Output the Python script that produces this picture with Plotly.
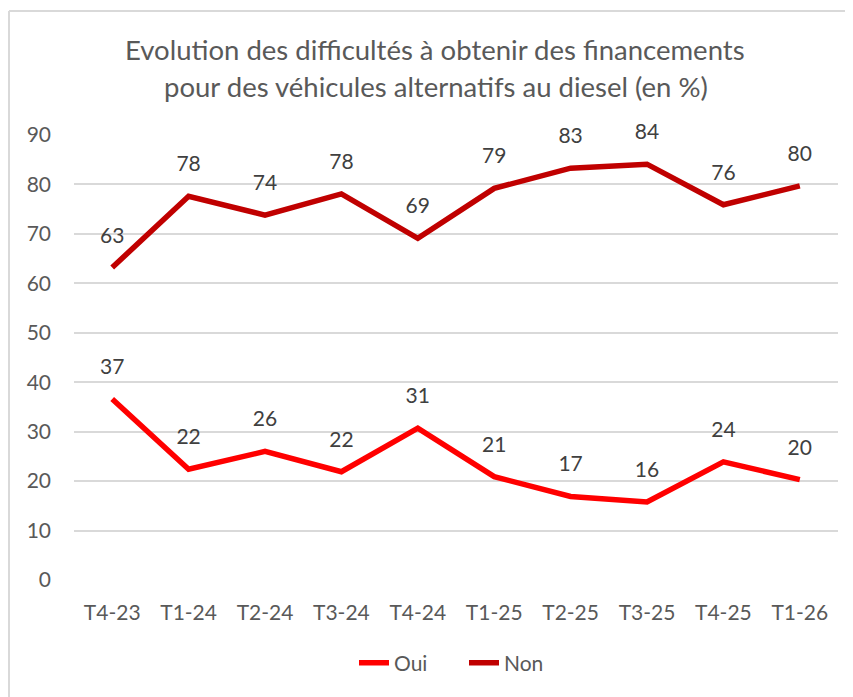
import plotly.graph_objects as go

categories = ["T4-23", "T1-24", "T2-24", "T3-24", "T4-24", "T1-25", "T2-25", "T3-25", "T4-25", "T1-26"]
oui = [36.6, 22.4, 26.0, 21.9, 30.7, 20.9, 16.9, 15.8, 23.9, 20.3]
non = [63.2, 77.6, 73.8, 78.1, 69.1, 79.2, 83.3, 84.1, 75.9, 79.7]
y_ticks = [0, 10, 20, 30, 40, 50, 60, 70, 80, 90]
title_lines = ["Evolution des difficultés à obtenir des financements",
               "pour des véhicules alternatifs au diesel (en %)"]

FONT = "Lato"
GRAY = "#595959"

# page body has an 8px margin: work in reference pixel coords, shifted by OFF
OFF = 8
W, H = 853 - OFF, 697 - OFF
L = 74 - OFF
R = W - (838 - OFF)
T = 135 - OFF
B = H - (580 - OFF)
pw, ph = W - L - R, H - T - B

def px_x(x):
    return (x - OFF - L) / pw

def px_y(y):
    return (H - B - (y - OFF)) / ph

fig = go.Figure()
for name, vals, color in [("Oui", oui, "#FF0000"), ("Non", non, "#C00000")]:
    fig.add_trace(go.Scatter(
        x=categories, y=vals, name=name,
        mode="lines+markers+text",
        line=dict(color=color, width=5.5),
        marker=dict(size=30, color="rgba(0,0,0,0)"),
        text=[f"{round(v):d}" for v in vals],
        textposition="top center",
        textfont=dict(family=FONT, size=21, color="#404040"),
        cliponaxis=False,
        hoverinfo="skip",
    ))

shapes = [
    dict(type="line", xref="paper", yref="paper", x0=px_x(9), x1=px_x(870), y0=px_y(11), y1=px_y(11),
         line=dict(color="#D9D9D9", width=2)),
    dict(type="line", xref="paper", yref="paper", x0=px_x(9), x1=px_x(9), y0=px_y(11), y1=px_y(720),
         line=dict(color="#D9D9D9", width=2)),
]

annotations = [
    dict(text=title_lines[0], xref="paper", yref="paper", x=px_x(435), y=px_y(50),
         showarrow=False, font=dict(family=FONT, size=27.5, color=GRAY), xanchor="center", yanchor="middle"),
    dict(text=title_lines[1], xref="paper", yref="paper", x=px_x(436), y=px_y(86),
         showarrow=False, font=dict(family=FONT, size=27.5, color=GRAY), xanchor="center", yanchor="middle"),
]

fig.update_layout(
    width=W, height=H,
    margin=dict(l=L, r=R, t=T, b=B),
    paper_bgcolor="white", plot_bgcolor="white",
    font=dict(family=FONT, color=GRAY),
    showlegend=True,
    legend=dict(orientation="h", x=px_x(464), xanchor="center", y=px_y(663), yanchor="middle",
                font=dict(family=FONT, size=21, color=GRAY), tracegroupgap=0,
                entrywidth=65, entrywidthmode="pixels"),
    shapes=shapes,
    annotations=annotations,
)
fig.update_xaxes(range=[-0.5, 9.5], showgrid=False, showline=False, ticks="",
                 tickfont=dict(family=FONT, size=21, color=GRAY), ticklabelstandoff=18)
fig.update_yaxes(range=[0, 90], tickvals=y_ticks, showgrid=True, gridcolor="#D9D9D9", gridwidth=2,
                 zeroline=False, showline=False, ticks="", tickfont=dict(family=FONT, size=21, color=GRAY),
                 ticklabelstandoff=22)

fig.write_html("out.html")
